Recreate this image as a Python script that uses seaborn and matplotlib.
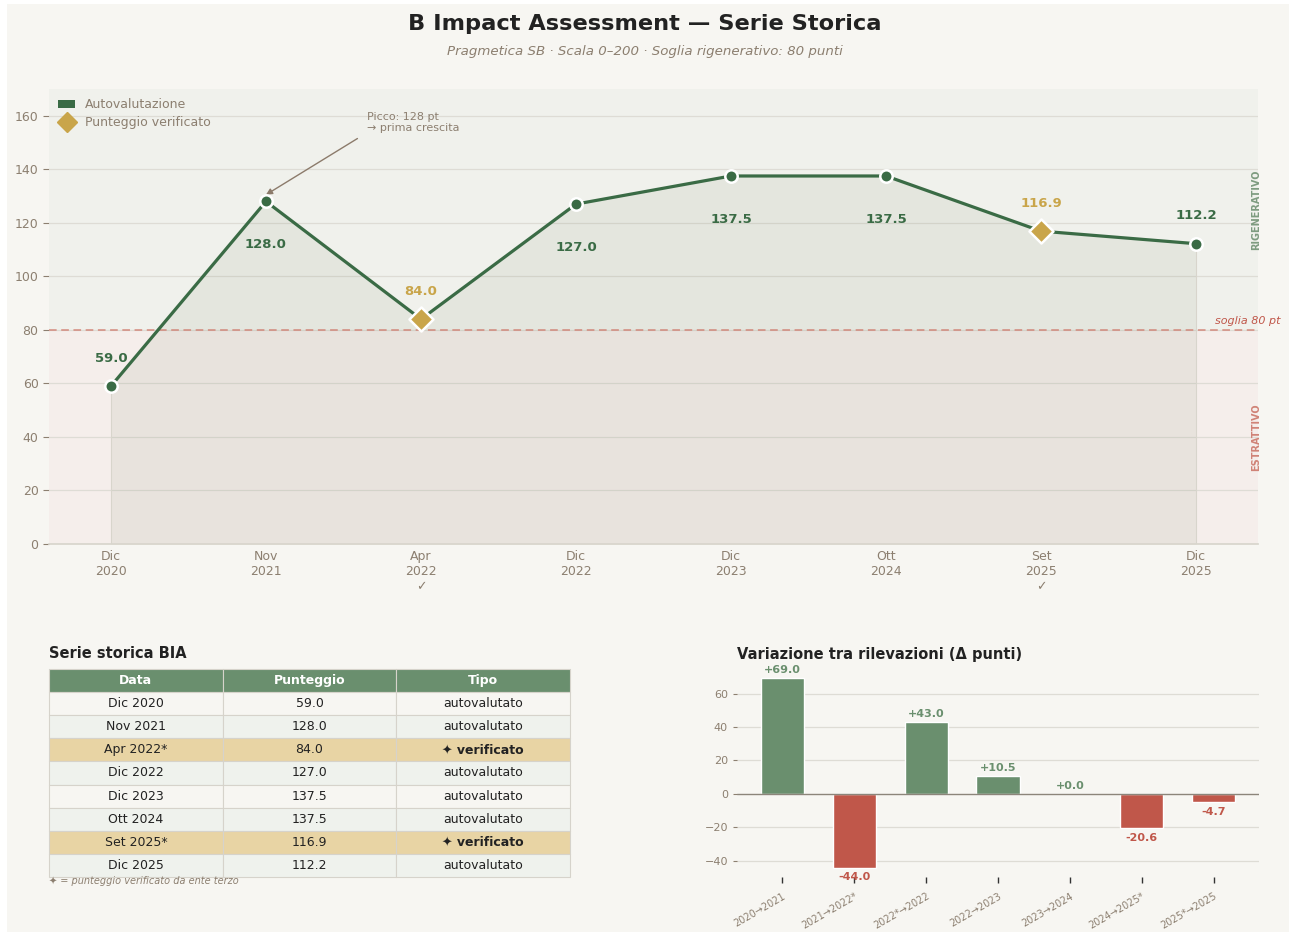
import matplotlib
matplotlib.use("Agg")
import matplotlib.pyplot as plt
import seaborn as sns
import numpy as np
import pandas as pd
from matplotlib.patches import Rectangle, Patch
from matplotlib.lines import Line2D

# ---------------- data ----------------
dates = ["Dic 2020", "Nov 2021", "Apr 2022", "Dic 2022", "Dic 2023", "Ott 2024", "Set 2025", "Dic 2025"]
tick_labels = ["Dic\n2020", "Nov\n2021", "Apr\n2022\n✓", "Dic\n2022", "Dic\n2023", "Ott\n2024", "Set\n2025\n✓", "Dic\n2025"]
scores = [59.0, 128.0, 84.0, 127.0, 137.5, 137.5, 116.9, 112.2]
verified = [False, False, True, False, False, False, True, False]
label_above = [True, False, True, False, False, False, True, True]
threshold = 80
delta_labels = ["2020→2021", "2021→2022*", "2022*→2022", "2022→2023", "2023→2024", "2024→2025*", "2025*→2025"]
deltas = [69.0, -44.0, 43.0, 10.5, 0.0, -20.6, -4.7]

# ---------------- style ----------------
BG = "#f7f6f2"
GREEN = "#3a6b45"
GOLD = "#c9a54a"
RED = "#c0574a"
LGREEN = "#6a8f6e"
MUTED = "#8c7f70"
GRID = "#dedcd5"

sns.set_theme(style="white")
plt.rcParams["font.family"] = ["DejaVu Sans"]

W, H = 1290, 933
fig = plt.figure(figsize=(W / 100, H / 100), dpi=100, facecolor="white")
fig.patches.append(Rectangle((7 / W, 1 / H), (1289 - 7) / W, (928) / H,
                             transform=fig.transFigure, facecolor=BG, edgecolor="none", zorder=-10))

fig.text(0.5, 1 - 24 / H, "B Impact Assessment — Serie Storica", ha="center", va="center",
         fontsize=16.2, fontweight="bold", color="#222222")
fig.text(0.5, 1 - 51 / H, "Pragmetica SB · Scala 0–200 · Soglia rigenerativo: 80 punti", ha="center",
         va="center", fontsize=9.6, fontstyle="italic", color=MUTED)

# ---------------- main chart ----------------
ax = fig.add_axes([49 / W, 1 - 544 / H, (1258 - 49) / W, (544 - 89) / H])
ax.set_facecolor("none")
x = np.arange(len(scores))
df = pd.DataFrame({"x": x, "score": scores, "verified": verified})

ax.axhspan(threshold, 170, color="#f0f1ec", zorder=0, lw=0)
ax.axhspan(0, threshold, color="#f5eeeb", zorder=0, lw=0)
for yv in [20, 40, 60, 80, 100, 120, 140, 160]:
    ax.axhline(yv, color=GRID, lw=0.9, zorder=1)
ax.fill_between(df["x"], df["score"], 0, color="#6e7a5a", alpha=0.09, lw=0, zorder=2)
ax.axvline(0, ymax=59 / 170, color="#d8d5cc", lw=0.8, zorder=2)
ax.axvline(7, ymax=112.2 / 170, color="#d8d5cc", lw=0.8, zorder=2)
ax.axhline(threshold, color="#d07a6c", lw=1.1, ls=(0, (5, 3)), alpha=0.85, zorder=3)

sns.lineplot(data=df, x="x", y="score", ax=ax, color=GREEN, lw=2.3, zorder=4, legend=False)
sns.scatterplot(data=df[~df["verified"]], x="x", y="score", ax=ax, color=GREEN, s=80,
                edgecolor="white", linewidth=1.8, zorder=5, legend=False)
sns.scatterplot(data=df[df["verified"]], x="x", y="score", ax=ax, color=GOLD, marker="D", s=150,
                edgecolor="white", linewidth=1.8, zorder=6, legend=False)

for xi, v, ver, up in zip(x, scores, verified, label_above):
    ax.annotate(f"{v:.1f}", (xi, v), xytext=(0, 20 if up else -31), textcoords="offset points",
                ha="center", va="center", fontsize=9.5, fontweight="bold",
                color=GOLD if ver else GREEN, zorder=7)

ax.annotate("", xy=(1.0, 130.5), xytext=(1.59, 151.5),
            arrowprops=dict(arrowstyle="-|>", color="#8c7b6b", lw=1.0, mutation_scale=9,
                            shrinkA=0, shrinkB=0))
ax.text(1.65, 153.5, "Picco: 128 pt\n→ prima crescita", fontsize=8, color=MUTED, ha="left",
        va="bottom", linespacing=1.2)

ax.text(1.019, 81.5, "soglia 80 pt", transform=ax.get_yaxis_transform(), ha="right", va="bottom",
        fontsize=8, fontstyle="italic", color="#c0574a")
ax.text(0.9983, 125, "RIGENERATIVO", transform=ax.get_yaxis_transform(), rotation=90, ha="center",
        va="center", fontsize=7, fontweight="bold", color="#7e9c80")
ax.text(0.9983, 40, "ESTRATTIVO", transform=ax.get_yaxis_transform(), rotation=90, ha="center",
        va="center", fontsize=7, fontweight="bold", color="#d08377")

ax.set_xlim(-0.4, 7.4)
ax.set_ylim(0, 170)
ax.set_xticks(x)
ax.set_xticklabels(tick_labels, fontsize=9, color=MUTED, linespacing=1.25)
ax.set_yticks([0, 20, 40, 60, 80, 100, 120, 140, 160])
ax.tick_params(axis="y", labelsize=9, colors=MUTED, length=4, width=0.8, left=True)
ax.tick_params(axis="x", length=0, pad=4)
ax.set_xlabel("")
ax.set_ylabel("")
for s in ["top", "right", "left"]:
    ax.spines[s].set_visible(False)
ax.spines["bottom"].set_color("#d8d5cc")

handles = [Patch(facecolor=GREEN, edgecolor="none", label="Autovalutazione"),
           Line2D([], [], marker="D", color="none", markerfacecolor=GOLD, markeredgecolor=GOLD,
                  markersize=10, label="Punteggio verificato")]
leg = ax.legend(handles=handles, loc="upper left", frameon=False, fontsize=9, handlelength=1.3,
                handletextpad=0.8, borderaxespad=0.35, labelspacing=0.4, bbox_to_anchor=(0.0, 1.0))
for t in leg.get_texts():
    t.set_color(MUTED)

# ---------------- table ----------------
tax = fig.add_axes([49 / W, 1 - 877 / H, (570 - 49) / W, (877 - 669) / H])
tax.axis("off")
fig.text(49 / W, 1 - 654 / H, "Serie storica BIA", ha="left", va="center", fontsize=10.5,
         fontweight="bold", color="#222222")
cell_text = []
for d, v, ver in zip(dates, scores, verified):
    cell_text.append([d + ("*" if ver else ""), f"{v:.1f}", "✦ verificato" if ver else "autovalutato"])
tbl = tax.table(cellText=cell_text, colLabels=["Data", "Punteggio", "Tipo"], cellLoc="center",
                bbox=[0, 0, 1, 1])
tbl.auto_set_font_size(False)
tbl.set_fontsize(9)
for (r, c), cell in tbl.get_celld().items():
    cell.set_edgecolor("#d6d3cb")
    cell.set_linewidth(0.8)
    if r == 0:
        cell.set_facecolor(LGREEN)
        cell.get_text().set_color("white")
        cell.get_text().set_fontweight("bold")
    else:
        ver = verified[r - 1]
        if ver:
            cell.set_facecolor("#e8d4a4")
        else:
            cell.set_facecolor(BG if (r - 1) % 2 == 0 else "#eff2ed")
        cell.get_text().set_color("#222222")
        if ver and c == 2:
            cell.get_text().set_fontweight("bold")
fig.text(49 / W, 1 - 881 / H, "✦ = punteggio verificato da ente terzo", ha="left", va="center",
         fontsize=7, fontstyle="italic", color=MUTED)

# ---------------- delta bars ----------------
bax = fig.add_axes([737 / W, 1 - 877 / H, (1259 - 737) / W, (877 - 669) / H])
bax.set_facecolor("none")
ddf = pd.DataFrame({"lab": delta_labels, "delta": deltas,
                    "sign": ["pos" if d >= 0 else "neg" for d in deltas]})
for yv in [-40, -20, 20, 40, 60]:
    bax.axhline(yv, color=GRID, lw=0.9, zorder=0)
sns.barplot(data=ddf, x="lab", y="delta", hue="sign", palette={"pos": LGREEN, "neg": RED},
            dodge=False, width=0.6, ax=bax, legend=False, zorder=2, saturation=1)
bax.axhline(0, color="#8c857a", lw=1.0, zorder=3)
for i, d in enumerate(deltas):
    pos = d >= 0
    bax.annotate(f"{d:+.1f}", (i, d), xytext=(0, 6 if pos else -7), textcoords="offset points",
                 ha="center", va="center", fontsize=8, fontweight="bold",
                 color=LGREEN if pos else RED, zorder=4)
bax.set_xlim(-0.63, 6.63)
bax.set_ylim(-49.65, 74.65)
bax.set_yticks([-40, -20, 0, 20, 40, 60])
bax.tick_params(axis="y", labelsize=8, colors=MUTED, length=3, width=0.8, left=True)
bax.tick_params(axis="x", length=4, width=1, color="#333333", bottom=True, labelsize=7,
                labelcolor=MUTED, pad=6)
plt.setp(bax.get_xticklabels(), rotation=30, ha="right", rotation_mode="anchor")
bax.set_xlabel("")
bax.set_ylabel("")
for s in ["top", "right", "left", "bottom"]:
    bax.spines[s].set_visible(False)
fig.text(737 / W, 1 - 654 / H, "Variazione tra rilevazioni (Δ punti)", ha="left", va="center",
         fontsize=10.5, fontweight="bold", color="#222222")

fig.savefig("out.png", dpi=100, facecolor=fig.get_facecolor())
